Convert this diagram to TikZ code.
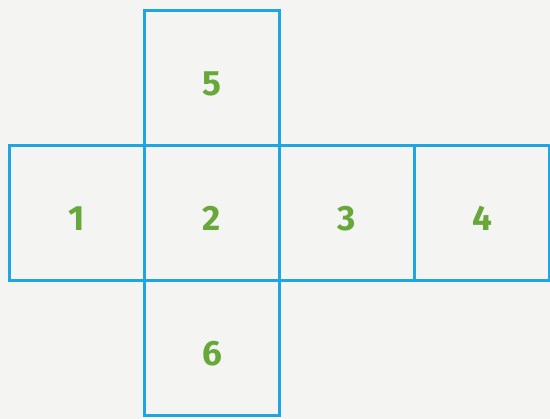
\documentclass[tikz,border=0pt]{standalone}
\usepackage{fontspec}
\setmainfont{Fira Sans}
\usepackage{xcolor}
\usepackage{tikz}
\usetikzlibrary{positioning}

\definecolor{netblue}{RGB}{30,166,228}
\definecolor{netgreen}{RGB}{104,168,58}
\definecolor{paper}{RGB}{244,244,242}

\begin{document}
\begin{tikzpicture}[x=0.03cm, y=-0.03cm, node distance=0pt,
  every node/.style={font=\fontsize{30}{30}\selectfont\bfseries},
  face/.style={draw=netblue, line width=0.085cm, minimum size=4.05cm, inner sep=0pt, outer sep=0pt,
    text=netgreen, text height=1.05cm, text depth=0pt}]
  \fill[paper] (0,0) rectangle (550,419);
  \useasboundingbox (0,0) rectangle (550,419);
  \node[face] (f1) at (77,213) {1};
  \node[face,right=of f1] (f2) {2};
  \node[face,right=of f2] (f3) {3};
  \node[face,right=of f3] (f4) {4};
  \node[face,above=of f2] (f5) {5};
  \node[face,below=of f2] (f6) {6};
\end{tikzpicture}
\end{document}
